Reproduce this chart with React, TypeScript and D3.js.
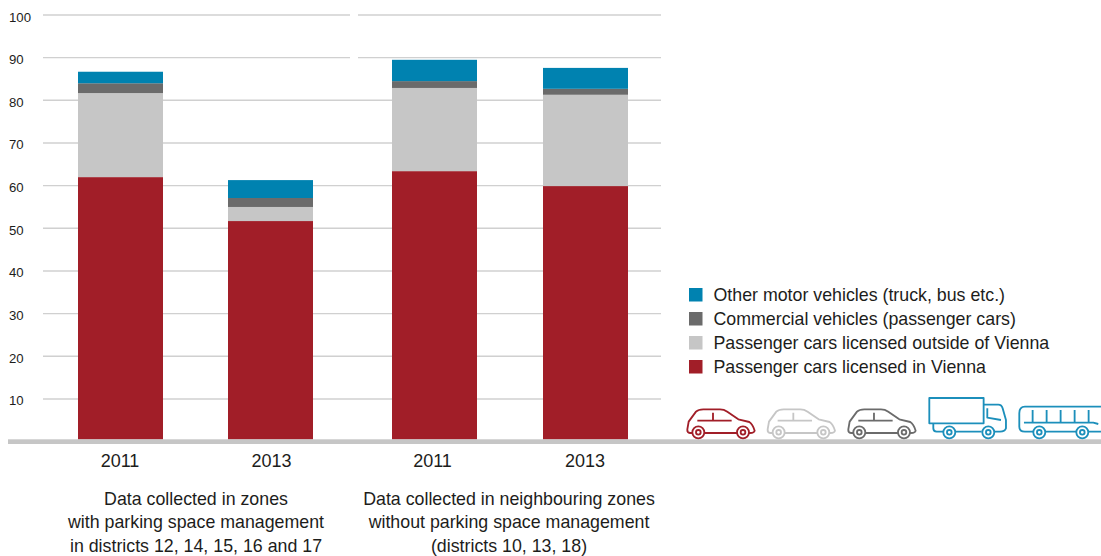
import React from "react";
import * as d3 from "d3";

const years = ["2011", "2013", "2011", "2013"];
const barKeys = ["a", "b", "c", "d"];
const seriesNames = [
  "Passenger cars licensed in Vienna",
  "Passenger cars licensed outside of Vienna",
  "Commercial vehicles (passenger cars)",
  "Other motor vehicles (truck, bus etc.)",
];
const colors = ["#a11e28", "#c6c6c6", "#6b6b6b", "#0082b0"];
const viennaCars = [62.0, 51.7, 63.4, 59.9];
const outsideCars = [19.7, 3.3, 19.5, 21.4];
const commercial = [2.3, 2.1, 1.6, 1.4];
const otherVehicles = [2.7, 4.2, 5.0, 4.9];
const yTicks = [10, 20, 30, 40, 50, 60, 70, 80, 90, 100];
const groupLabels = [
  ["Data collected in zones", "with parking space management", "in districts 12, 14, 15, 16 and 17"],
  ["Data collected in neighbouring zones", "without parking space management", "(districts 10, 13, 18)"],
];

const W = 1101, H = 556;
const FONT = "'Liberation Sans', Arial, sans-serif";
const TXT = "#1d1d1b";

const y = d3.scaleLinear().domain([0, 100]).range([441.6, 15]);
const x = d3.scaleOrdinal<string, number>().domain(barKeys).range([78, 228, 392, 543]);
const yearX = d3.scaleOrdinal<string, number>().domain(barKeys).range([120, 271.5, 432.5, 585]);
const BW = 85;

const table = barKeys.map((k, i) => ({
  key: k,
  s0: viennaCars[i],
  s1: outsideCars[i],
  s2: commercial[i],
  s3: otherVehicles[i],
}));
const stacked = d3.stack<any>().keys(["s0", "s1", "s2", "s3"])(table);

const Wheel = ({ cx, c }: { cx: number; c: string }) => (
  <g fill="#fff" stroke={c} strokeWidth={5.5}>
    <circle cx={cx} cy={127} r={18} />
    <circle cx={cx} cy={127} r={7} />
  </g>
);

const Car = ({ dx, c }: { dx: number; c: string }) => (
  <g transform={`translate(${dx},0)`} fill="none" stroke={c} strokeWidth={5.5} strokeLinejoin="round">
    <path d="M70 129H60Q51 128 52 118L56 95L78 65Q85 58 100 58H150Q162 58 172 65L205 88L238 96Q248 102 254 122Q253 129 240 129H232M205 129H100" />
    <path d="M82 92H185M129 68V92" />
    <Wheel cx={85} c={c} />
    <Wheel cx={219} c={c} />
  </g>
);

const Truck = ({ c }: { c: string }) => (
  <g fill="none" stroke={c} strokeWidth={5.5} strokeLinejoin="round">
    <rect x={778} y={24} width={163} height={76} />
    <path d="M941 44H985Q995 44 998 55L1008 90V115Q1005 125 990 125H975M935 125H855M820 125H800Q790 125 790 115V100" />
    <path d="M952 55V83L993 90" />
    <Wheel cx={838} c={c} />
    <Wheel cx={955} c={c} />
  </g>
);

const Bus = ({ c }: { c: string }) => (
  <g fill="none" stroke={c} strokeWidth={5.5} strokeLinejoin="round">
    <path d="M1293 50H1065Q1048 50 1048 70V110Q1048 125 1065 125H1090M1125 125H1220M1255 125H1293" />
    <path d="M1062 98H1270L1285 102M1088 60V98M1130 60V98M1172 60V98M1214 60V98M1256 60V98" />
    <Wheel cx={1108} c={c} />
    <Wheel cx={1237} c={c} />
  </g>
);

export default function App() {
  return (
    <svg
      width={W}
      height={H}
      viewBox={`0 0 ${W} ${H}`}
      style={{ position: "absolute", left: 0, top: 0, background: "#fff" }}
      fontFamily={FONT}
    >
      {yTicks.map((t) => {
        const broken = t >= 90;
        return (
          <g key={t}>
            {broken ? (
              <>
                <line x1={43} x2={350} y1={y(t)} y2={y(t)} stroke="#d0d0d0" strokeWidth={1.4} />
                <line x1={358} x2={661} y1={y(t)} y2={y(t)} stroke="#d0d0d0" strokeWidth={1.4} />
              </>
            ) : (
              <line x1={43} x2={661} y1={y(t)} y2={y(t)} stroke="#d0d0d0" strokeWidth={1.4} />
            )}
            <text x={9} y={y(t) + 6.5} fontSize={13.2} fill={TXT}>
              {t}
            </text>
          </g>
        );
      })}

      {stacked.map((layer, si) => (
        <g key={si} fill={colors[si]}>
          {layer.map((d, i) => (
            <rect
              key={i}
              x={x(barKeys[i])}
              width={BW}
              y={y(d[1])}
              height={Math.min(y(d[0]), 439.5) - y(d[1])}
            />
          ))}
        </g>
      ))}

      <rect x={8} y={439.3} width={W - 8} height={4.7} fill="#c6c6c6" />

      {years.map((yr, i) => (
        <text key={i} x={yearX(barKeys[i])} y={466.5} textAnchor="middle" fontSize={18} fill={TXT}>
          {yr}
        </text>
      ))}

      {groupLabels.map((lines, g) =>
        lines.map((l, j) => (
          <text
            key={l}
            x={g === 0 ? 196 : 509}
            y={504.5 + j * 23.9}
            textAnchor="middle"
            fontSize={17.8}
            fill={TXT}
          >
            {l}
          </text>
        ))
      )}

      {[3, 2, 1, 0].map((s, i) => (
        <g key={s}>
          <rect x={689} y={288 + i * 24} width={13.5} height={13.5} fill={colors[s]} />
          <text x={713.5} y={300.5 + i * 24} fontSize={17.8} fill={TXT}>
            {seriesNames[s]}
          </text>
        </g>
      ))}

      <g transform="translate(670,390) scale(0.3333)">
        <Car dx={0} c={colors[0]} />
        <Car dx={241} c={colors[1]} />
        <Car dx={483} c={colors[2]} />
        <Truck c="#1c8fbb" />
        <Bus c="#1c8fbb" />
      </g>
    </svg>
  );
}
